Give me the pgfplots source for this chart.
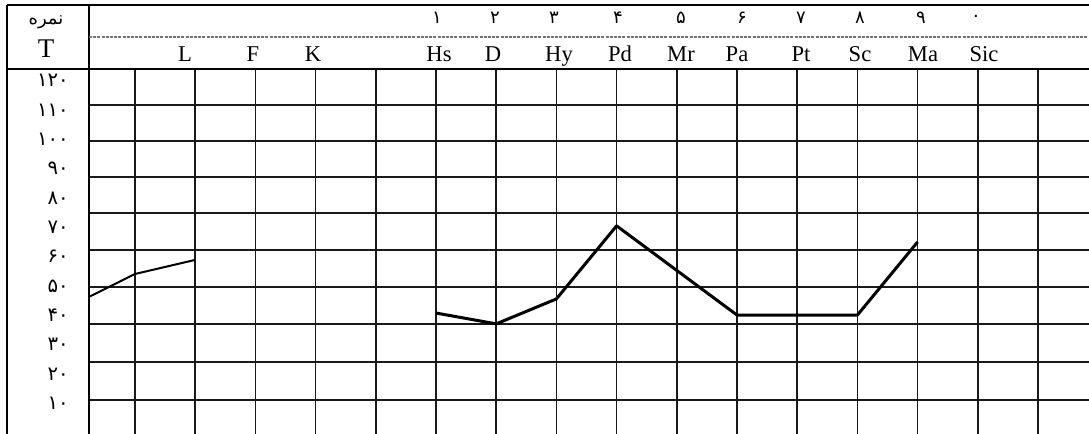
\documentclass[border=0pt]{standalone}
\usepackage{fontspec}
\setmainfont{Liberation Serif}
\newfontfamily\pdig{DejaVu Sans}
\newfontfamily\arabicfont[Script=Arabic]{DejaVu Sans}
\TeXXeTstate=1
\usepackage{pgfplots}
\pgfplotsset{compat=1.18}
\begin{document}
\begin{tikzpicture}
\useasboundingbox (0,0) rectangle (544.5pt,217pt);
\fill[white] (0,0) rectangle (544.5pt,217pt);
\begin{axis}[
  at={(44.5pt,0pt)}, anchor=south west,
  scale only axis, width=500pt, height=182.5pt,
  xmin=-0.764, xmax=15.847,
  ymin=-0.42, ymax=123.94,
  axis x line*=top, axis y line*=left,
  axis line style={line width=0.85pt, black},
  xtick={0,...,15}, xticklabels={},
  ytick={11.17,24.11,37.06,49.67,62.27,74.88,87.15,99.41,111.68},
  yticklabels={},
  grid=major,
  major grid style={line width=0.8pt, black!90},
  major tick length=0pt,
  extra y ticks={10,20,30,40,50,60,70,80,90,100,110,120},
  extra y tick labels={۱۰,۲۰,۳۰,۴۰,۵۰,۶۰,۷۰,۸۰,۹۰,۱۰۰,۱۱۰,۱۲۰},
  extra y tick style={grid=none, major tick length=0pt,
    yticklabel style={font=\pdig\fontsize{9.8}{9.8}\selectfont, anchor=east, inner sep=0pt, xshift=-10pt}},
  clip=false,
]
% L F K profile segment
\addplot[black, line width=1pt] coordinates {(-0.764,46.3) (0,54.1) (1,58.9)};
% clinical scales profile
\addplot[black, line width=1.5pt, line join=round] coordinates {
  (5,40.8) (6,37.1) (7,45.6) (8,70.5) (9,55.3) (10,40.1) (11,40.1) (12,40.1) (13,65.0)};
\end{axis}
% form borders
\draw[line width=0.85pt, black] (3.5pt,214.5pt) -- (544.5pt,214.5pt);
\draw[line width=0.85pt, black] (3.5pt,0pt) -- (3.5pt,214.5pt);
\draw[line width=0.85pt, black] (44.5pt,182.5pt) -- (44.5pt,214.5pt);
\draw[line width=0.85pt, black] (3.5pt,182.5pt) -- (44.5pt,182.5pt);
\draw[line width=0.6pt, black!55, dash pattern=on 1.5pt off 0.6pt] (44.5pt,198.5pt) -- (544.5pt,198.5pt);
% left header
\node[font=\arabicfont\fontsize{9}{9}\selectfont] at (23pt,206pt) {\beginR نمره\endR};
\node[font=\fontsize{13.5}{13.5}\selectfont, anchor=base, inner sep=0pt] at (23pt,188pt) {T};
% scale names
\begin{scope}[every node/.style={font=\fontsize{11.3}{11.3}\selectfont, anchor=base, inner sep=0pt}]
\node at (92.5pt,186pt) {L};
\node at (126.5pt,186pt) {F};
\node at (156.5pt,186pt) {K};
\node at (219.5pt,186pt) {Hs};
\node at (246.5pt,186pt) {D};
\node at (279.5pt,186pt) {Hy};
\node at (310pt,186pt) {Pd};
\node at (340.5pt,186pt) {Mr};
\node at (368.5pt,186pt) {Pa};
\node at (400.5pt,186pt) {Pt};
\node at (430pt,186pt) {Sc};
\node at (461.5pt,186pt) {Ma};
\node at (492pt,186pt) {Sic};
\end{scope}
% scale numbers
\begin{scope}[every node/.style={font=\pdig\fontsize{9}{9}\selectfont, inner sep=0pt}]
\node at (218.5pt,208pt) {۱};
\node at (247.5pt,208pt) {۲};
\node at (277pt,208pt) {۳};
\node at (309pt,208pt) {۴};
\node at (340.5pt,208pt) {۵};
\node at (371pt,208pt) {۶};
\node at (400.5pt,208pt) {۷};
\node at (430pt,208pt) {۸};
\node at (460.5pt,208pt) {۹};
\node at (488pt,208pt) {۰};
\end{scope}
\end{tikzpicture}
\end{document}
